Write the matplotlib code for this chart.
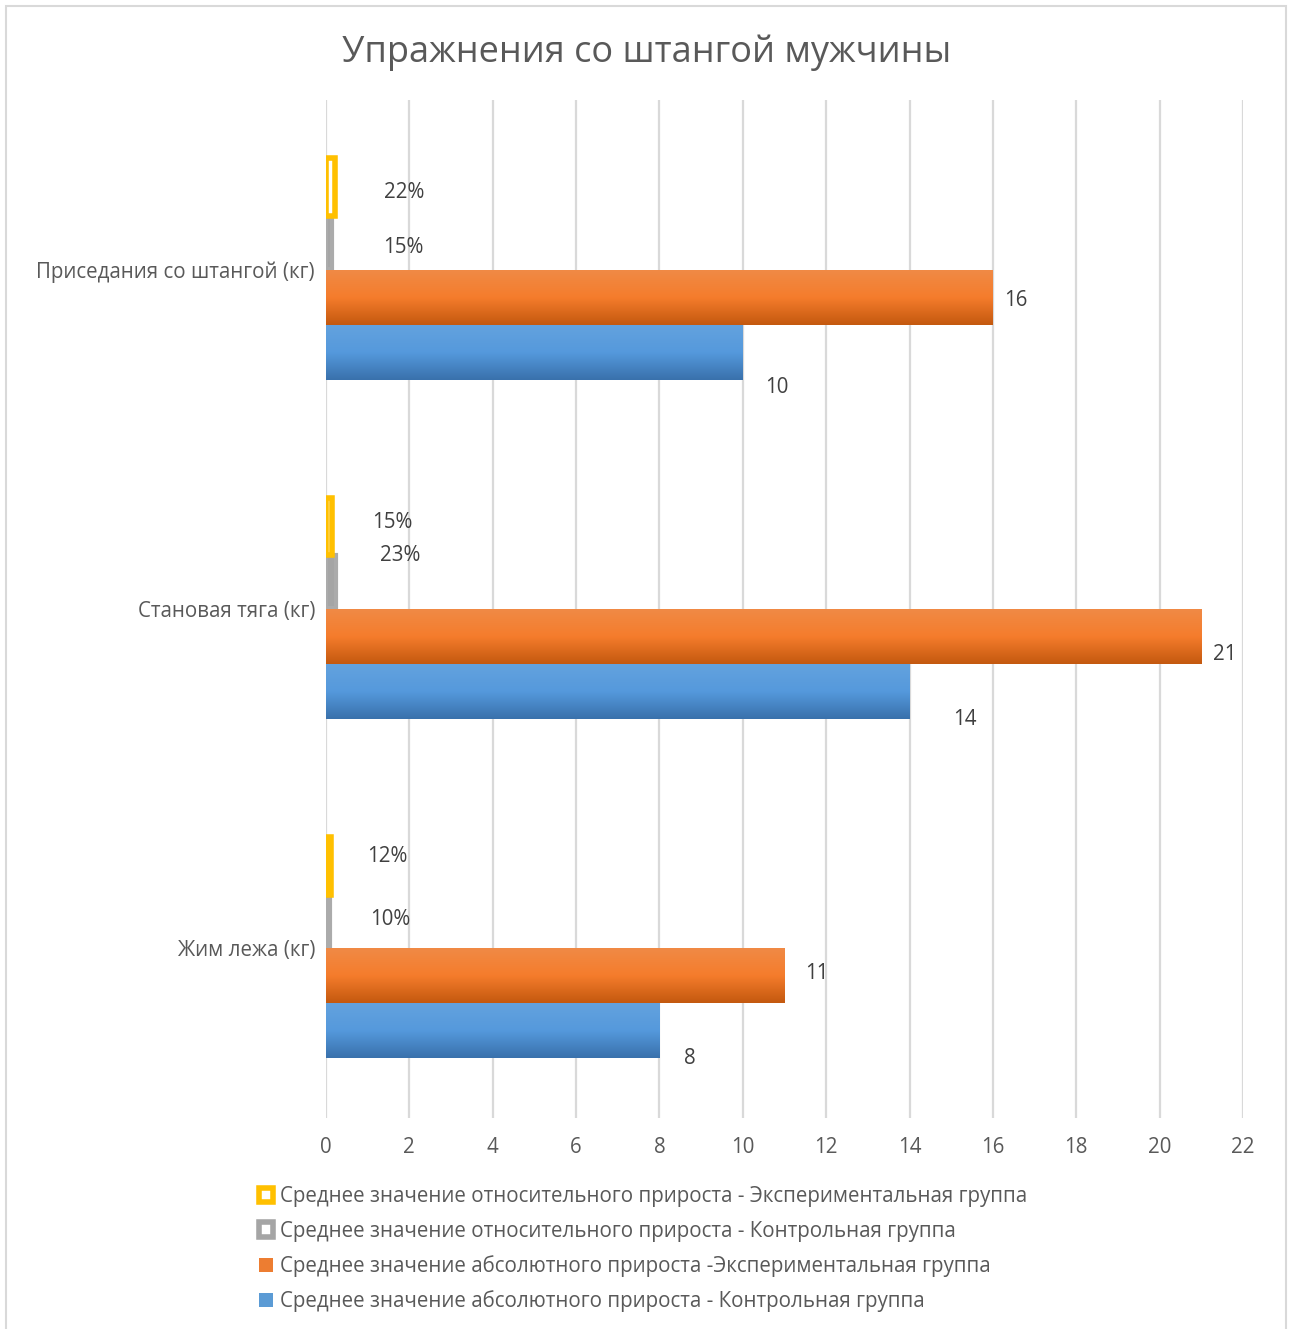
import numpy as np
import matplotlib
matplotlib.use("Agg")
import matplotlib.pyplot as plt
from matplotlib.patches import Rectangle, Patch
from matplotlib.colors import LinearSegmentedColormap

plt.rcParams["font.family"] = ["Open Sans", "DejaVu Sans"]

# данные
categories = ["Жим лежа (кг)", "Становая тяга (кг)", "Приседания со штангой (кг)"]
abs_control = [8, 14, 10]
abs_exp = [11, 21, 16]
rel_control = [0.10, 0.23, 0.15]
rel_exp = [0.12, 0.15, 0.22]
rel_control_lbl = ["10%", "23%", "15%"]
rel_exp_lbl = ["12%", "15%", "22%"]
x_ticks = list(range(0, 23, 2))

series_names = [
    "Среднее значение абсолютного прироста - Контрольная группа",
    "Среднее значение абсолютного прироста -Экспериментальная группа",
    "Среднее значение относительного прироста - Контрольная группа",
    "Среднее значение относительного прироста - Экспериментальная группа",
]

# смещения подписей (пиксели) — подписи в оригинале сдвинуты вручную
off_blue = [(30, -28), (55, -28), (34, -35)]
off_orange = [(32, 2), (23, -18), (23, -3)]
off_gray = [(60, 1), (65, 26), (71, -5)]
off_yellow = [(56, 9), (60, 4), (69, -5)]

txt_col = "#595959"
lbl_col = "#404040"
fs = 14.8

fig = plt.figure(figsize=(12.93, 13.29), dpi=100)
fig.patch.set_facecolor("white")

# рамка диаграммы
fig.patches.append(Rectangle((6 / 1293, -0.01), 1280 / 1293, 1 - 6 / 1329 + 0.01,
                             transform=fig.transFigure, fill=False,
                             edgecolor="#D9D9D9", linewidth=1.5))

ax = fig.add_axes([326 / 1293, 1 - 1118 / 1329, (1243 - 326) / 1293, (1118 - 100) / 1329])

y = np.arange(len(categories))
h = 0.162

def gradient_bars(bars, c_top, c_mid, c_bot):
    cmap = LinearSegmentedColormap.from_list("g", [c_bot, c_mid, c_top])
    grad = np.linspace(0, 1, 64).reshape(-1, 1)
    for b in bars:
        x0, y0, w, hh = b.get_x(), b.get_y(), b.get_width(), b.get_height()
        b.set_alpha(0)
        ax.imshow(grad, extent=(x0, x0 + w, y0, y0 + hh), origin="lower",
                  cmap=cmap, aspect="auto", zorder=3, interpolation="bicubic")

b_blue = ax.barh(y - 1.5 * h, abs_control, height=h, color="#5B9BD5", zorder=3)
b_orange = ax.barh(y - 0.5 * h, abs_exp, height=h, color="#ED7D31", zorder=3)
b_gray = ax.barh(y + 0.5 * h, rel_control, height=h * 0.97, color="#A5A5A5",
                 edgecolor="#ABABAB", linewidth=3, zorder=3)
yellow_face = ["#FFC000", "white", "white"]
b_yellow = ax.barh(y + 1.5 * h, rel_exp, height=h * 1.05, color=yellow_face,
                   edgecolor="#FFC000", linewidth=4, zorder=4)

gradient_bars(b_blue, "#63A2DE", "#5599DC", "#3971AC")
gradient_bars(b_orange, "#F08A45", "#F57C2C", "#C4590F")

def labels(bars, texts, offs):
    for b, t, (dx, dy) in zip(bars, texts, offs):
        ax.annotate(t, (b.get_width(), b.get_y() + b.get_height() / 2),
                    xytext=(dx, dy), textcoords="offset pixels",
                    ha="center", va="center", fontsize=fs, color=lbl_col, zorder=6)

labels(b_blue, [str(v) for v in abs_control], off_blue)
labels(b_orange, [str(v) for v in abs_exp], off_orange)
labels(b_gray, rel_control_lbl, off_gray)
labels(b_yellow, rel_exp_lbl, off_yellow)

ax.set_xlim(0, 22)
ax.set_ylim(-0.5, len(categories) - 0.5)
ax.set_xticks(x_ticks)
ax.set_yticks(y)
ax.set_yticklabels(categories)
ax.tick_params(axis="both", length=0, labelsize=fs, colors=txt_col)
ax.tick_params(axis="x", pad=14)
ax.tick_params(axis="y", pad=8)
ax.grid(axis="x", color="#D9D9D9", linewidth=1.6, zorder=0)
ax.set_axisbelow(True)
for s in ax.spines.values():
    s.set_visible(False)

fig.text(0.5, 1 - 53 / 1329, "Упражнения со штангой мужчины", ha="center", va="center",
         fontsize=26, color=txt_col)

leg_handles = [
    Patch(facecolor="white", edgecolor="#FFC000", linewidth=4),
    Patch(facecolor="white", edgecolor="#A5A5A5", linewidth=4),
    Patch(facecolor="#ED7D31"),
    Patch(facecolor="#5B9BD5"),
]
leg_labels = [series_names[3], series_names[2], series_names[1], series_names[0]]
leg = fig.legend(leg_handles, leg_labels, loc="upper left",
                 bbox_to_anchor=(259 / 1293, 1 - 1186 / 1329), frameon=False,
                 fontsize=fs, labelcolor=txt_col, handlelength=0.7, handleheight=0.7,
                 handletextpad=0.3, labelspacing=0.66, borderaxespad=0, borderpad=0)

fig.savefig("out.png", dpi=100)
